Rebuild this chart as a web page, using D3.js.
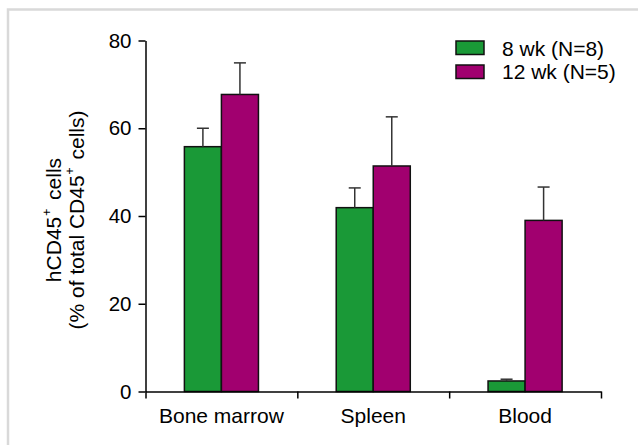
<!DOCTYPE html>
<html>
<head>
<meta charset="utf-8">
<script src="https://cdn.jsdelivr.net/npm/d3@7"></script>
<style>
  html, body { margin: 0; padding: 0; background: #fff; }
  svg { display: block; }
  text { font-family: "Liberation Sans", Arial, sans-serif; fill: #000; }
</style>
</head>
<body>
<svg id="chart" width="638" height="445"></svg>
<script>
const categories = ["Bone marrow", "Spleen", "Blood"];
const seriesNames = ["8 wk (N=8)", "12 wk (N=5)"];
const wk8Values = [55.8, 41.9, 2.4];
const wk8Errors = [4.2, 4.5, 0.4];
const wk12Values = [67.7, 51.4, 39.0];
const wk12Errors = [7.2, 11.2, 7.6];
const yTicks = [0, 20, 40, 60, 80];
const colors = ["#1a9937", "#a1006f"];

(function () {
const series = [
  { name: seriesNames[0], values: wk8Values, errors: wk8Errors, color: colors[0] },
  { name: seriesNames[1], values: wk12Values, errors: wk12Errors, color: colors[1] }
];

const svg = d3.select("#chart");

// frame
svg.append("path")
  .attr("d", "M8,445 L8,9.5 L638,9.5")
  .attr("fill", "none").attr("stroke", "#d9d9d9").attr("stroke-width", 2.5);

const pLeft = 145.5, pRight = 601, pTop = 40.5, pBottom = 391.5;

const y = d3.scaleLinear().domain([0, 80]).range([pBottom, pTop]);
const x0 = d3.scaleBand().domain(categories).range([pLeft, pRight]).paddingInner(0).paddingOuter(0);
const x1 = d3.scaleBand().domain(seriesNames).range([0, x0.bandwidth()]).paddingInner(0).paddingOuter(1.05);

// bars
const g = svg.append("g");
series.forEach(s => {
  categories.forEach((c, i) => {
    const bx = x0(c) + x1(s.name);
    const bw = x1.bandwidth();
    g.append("rect")
      .attr("x", bx).attr("y", y(s.values[i]))
      .attr("width", bw).attr("height", y(0) - y(s.values[i]))
      .attr("fill", s.color).attr("stroke", "#111").attr("stroke-width", 1.5);
    const cx = bx + bw / 2;
    const eTop = y(s.values[i] + s.errors[i]);
    g.append("line")
      .attr("x1", cx).attr("x2", cx).attr("y1", y(s.values[i])).attr("y2", eTop)
      .attr("stroke", "#333").attr("stroke-width", 1.5);
    g.append("line")
      .attr("x1", cx - 6).attr("x2", cx + 6).attr("y1", eTop).attr("y2", eTop)
      .attr("stroke", "#333").attr("stroke-width", 1.5);
  });
});

// y axis
const yAxis = svg.append("g").attr("transform", `translate(${pLeft},0)`)
  .call(d3.axisLeft(y).tickValues(yTicks).tickSize(7).tickSizeOuter(0).tickPadding(7).tickFormat(d3.format("d")));
yAxis.selectAll("text").style("font-size", "20.5px").attr("font-family", null);
yAxis.selectAll("line,path").attr("stroke", "#000").attr("stroke-width", 1.5);

// x axis: ticks at band boundaries
const xb = d3.scaleLinear().domain([0, categories.length]).range([pLeft, pRight]);
const xAxis = svg.append("g").attr("transform", `translate(0,${pBottom})`)
  .call(d3.axisBottom(xb).tickValues(d3.range(categories.length + 1)).tickSize(7).tickSizeOuter(0).tickFormat(""));
xAxis.selectAll("line,path").attr("stroke", "#000").attr("stroke-width", 1.5);

const xLab = svg.append("g").attr("transform", `translate(0,${pBottom})`)
  .call(d3.axisBottom(x0).tickSize(0).tickPadding(17));
xLab.select(".domain").remove();
xLab.selectAll("text").style("font-size", "21px").attr("font-family", null);

// y title
const yt = svg.append("text")
  .attr("transform", `translate(0,220) rotate(-90)`)
  .attr("text-anchor", "middle").style("font-size", "21px");
const l1 = yt.append("tspan").attr("x", 0).attr("y", 61);
l1.append("tspan").text("hCD45");
l1.append("tspan").text("+").style("font-size", "12px").attr("dy", -10).attr("dx", 1);
l1.append("tspan").text(" cells").attr("dy", 10).attr("dx", 3);
const l2 = yt.append("tspan").attr("x", 0).attr("y", 84);
l2.append("tspan").text("(% of total CD45");
l2.append("tspan").text("+").style("font-size", "12px").attr("dy", -10).attr("dx", 1);
l2.append("tspan").text(" cells)").attr("dy", 10).attr("dx", 2);

// legend
const legend = svg.append("g");
series.forEach((s, i) => {
  legend.append("rect")
    .attr("x", 456).attr("y", 41 + i * 24).attr("width", 28).attr("height", 13.5)
    .attr("fill", s.color).attr("stroke", "#111").attr("stroke-width", 1.5);
  legend.append("text")
    .attr("x", 502).attr("y", 55.5 + i * 23.5)
    .style("font-size", "21px").text(s.name);
});
})();
</script>
</body>
</html>
